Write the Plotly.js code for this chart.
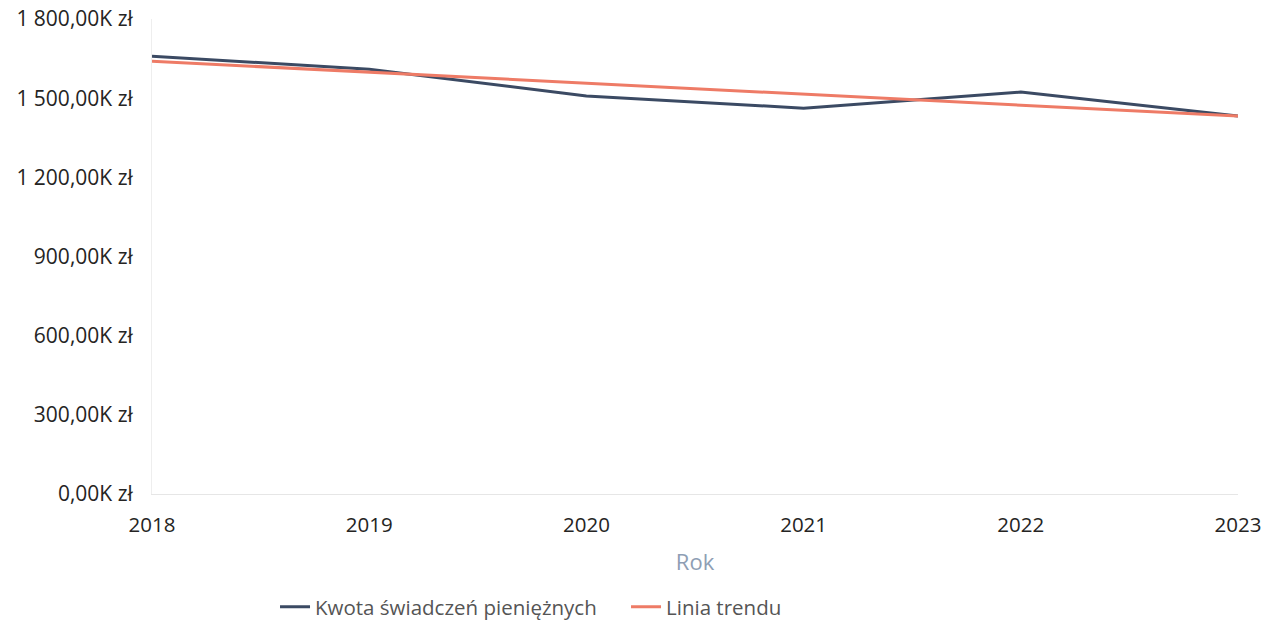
<!DOCTYPE html>
<html><head><meta charset="utf-8">
<script src="https://cdn.plot.ly/plotly-3.0.1.min.js"></script>
<style>html,body{margin:0;padding:0;background:#fff}#chart{width:1275px;height:623px}</style>
</head><body><div id="chart"></div>
<script>
const years = ['2018','2019','2020','2021','2022','2023'];
const kwota = [1659, 1610, 1508, 1462, 1523, 1432];
const trend = [1640, 1598, 1557, 1515, 1473, 1432];
const yTickVals = [0, 300, 600, 900, 1200, 1500, 1800];
const yTickText = ['0,00K zł','300,00K zł','600,00K zł','900,00K zł','1 200,00K zł','1 500,00K zł','1 800,00K zł'];

const font = "'Open Sans', 'DejaVu Sans', sans-serif";
const data = [
  {x: years, y: kwota, type: 'scatter', mode: 'lines', name: 'Kwota świadczeń pieniężnych',
   line: {color: '#3b4a63', width: 3}},
  {x: years, y: trend, type: 'scatter', mode: 'lines', name: 'Linia trendu',
   line: {color: '#ee7b66', width: 3}}
];
const layout = {
  width: 1275, height: 623,
  margin: {l: 152, r: 37, t: 19, b: 129},
  paper_bgcolor: '#fff', plot_bgcolor: '#fff',
  font: {family: font, size: 20, color: '#252423'},
  showlegend: true,
  legend: {orientation: 'h', xref: 'container', yref: 'container', x: 0.2157, xanchor: 'left',
           y: 0.026, yanchor: 'middle', font: {size: 20.5, color: '#555555'},
           itemwidth: 30, entrywidth: 306, entrywidthmode: 'pixels', tracegroupgap: 0},
  xaxis: {type: 'category', range: [0, 5], showgrid: false, zeroline: false,
          showline: true, linecolor: '#e6e6e6', linewidth: 1,
          ticks: '', ticklabelstandoff: 12, tickfont: {size: 20.5, color: '#252423'},
          title: {text: 'Rok', font: {size: 22, color: '#8e9eb4'}, standoff: 18}},
  yaxis: {range: [0, 1800], tickvals: yTickVals, ticktext: yTickText, showgrid: false,
          zeroline: false, showline: true, linecolor: '#eeeeee', linewidth: 1,
          ticks: '', ticklabelstandoff: 14, tickfont: {size: 21, color: '#252423'}}
};
Plotly.newPlot('chart', data, layout, {displayModeBar: false, staticPlot: true});
</script></body></html>
